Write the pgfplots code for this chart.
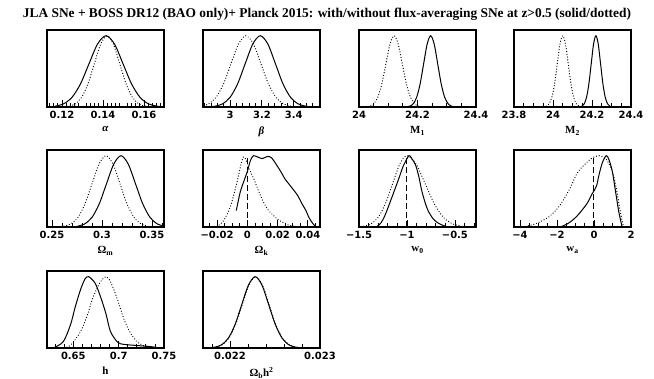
\documentclass[border=0pt]{standalone}
\usepackage{fontspec}
\setmainfont{Liberation Serif}
\newfontfamily\tickfont{DejaVu Sans}
\usepackage{pgfplots}
\pgfplotsset{compat=1.18}
\pgfplotsset{
  panel/.style={
    scale only axis, width=117bp, height=77bp,
    anchor=south west,
    ymin=0, ymax=1.08, ytick=\empty,
    scaled ticks=false,
    axis line style={line width=1.5bp},
    xtick pos=left, tick align=inside,
    major tick length=7bp, minor tick length=3.5bp,
    every tick/.style={black, line width=0.8bp},
    tick label style={font=\tickfont\bfseries\fontsize{10}{12}\selectfont},
    xticklabel style={yshift=-0.5bp},
    xlabel style={font=\bfseries\fontsize{11}{13}\selectfont, yshift=-1bp},
  },
  sol/.style={black, line width=1bp, smooth, no marks},
  dot/.style={black, line width=1.3bp, smooth, no marks, line cap=round, dash pattern=on 0.01bp off 2.8bp},
  vdash/.style={black, line width=1bp, no marks, dash pattern=on 6bp off 3bp},
}
\begin{document}
\begin{tikzpicture}
\path[use as bounding box] (0,0) rectangle (654bp,379bp);
\node[font=\bfseries] at (327bp,365bp) {\resizebox{608bp}{!}{JLA SNe + BOSS DR12 (BAO only)+ Planck 2015: with/without flux-averaging SNe at z>0.5 (solid/dotted)}};

% alpha
\begin{axis}[panel, at={(47bp,272bp)}, xmin=0.1127, xmax=0.1698,
  xtick={0.12,0.14,0.16}, xticklabels={0.12,0.14,0.16},
  minor xtick={0.114,0.116,0.118,0.122,0.124,0.126,0.128,0.132,0.134,0.136,0.138,0.142,0.144,0.146,0.148,0.152,0.154,0.156,0.158,0.162,0.164,0.166,0.168},
  xlabel={\textit{α}}]
\addplot[sol] coordinates {(0.11660,0.0111) (0.12075,0.0439) (0.12490,0.1353) (0.12905,0.3247) (0.13320,0.6065) (0.13735,0.8825) (0.14150,1) (0.14565,0.8825) (0.14980,0.6065) (0.15395,0.3247) (0.15810,0.1353) (0.16225,0.0439) (0.16640,0.0111) (0.17055,0.0022)};
\addplot[dot] coordinates {(0.1199,0.0022) (0.1234,0.0111) (0.1265,0.0439) (0.1296,0.1353) (0.1327,0.3247) (0.1358,0.6065) (0.1389,0.8825) (0.1420,1) (0.1451,0.8825) (0.1482,0.6065) (0.1513,0.3247) (0.1544,0.1353) (0.1575,0.0439) (0.1606,0.0111) (0.1637,0.0022)};
\end{axis}

% beta
\begin{axis}[panel, at={(203bp,272bp)}, xmin=2.83, xmax=3.565,
  xtick={3,3.2,3.4}, xticklabels={3,3.2,3.4},
  minor xtick={2.84,2.88,2.92,2.96,3.04,3.08,3.12,3.16,3.24,3.28,3.32,3.36,3.44,3.48,3.52,3.56},
  xlabel={\textit{β}}]
\addplot[sol] coordinates {(2.8575,0.0022) (2.905,0.0111) (2.9525,0.0439) (3.0,0.1353) (3.0475,0.3247) (3.095,0.6065) (3.1425,0.8825) (3.19,1) (3.2375,0.8825) (3.285,0.6065) (3.3325,0.3247) (3.38,0.1353) (3.4275,0.0439) (3.475,0.0111) (3.5225,0.0022)};
\addplot[dot] coordinates {(2.818,0.0111) (2.865,0.0439) (2.912,0.1353) (2.959,0.3247) (3.006,0.6065) (3.053,0.8825) (3.10,1) (3.147,0.8825) (3.194,0.6065) (3.241,0.3247) (3.288,0.1353) (3.335,0.0439) (3.382,0.0111) (3.429,0.0022)};
\end{axis}

% M1
\begin{axis}[panel, at={(359bp,272bp)}, xmin=24, xmax=24.4,
  xtick={24,24.2,24.4}, xticklabels={24,24.2,24.4},
  minor xtick={24.05,24.1,24.15,24.25,24.3,24.35},
  xlabel={M\textsubscript{1}}]
\addplot[sol] coordinates {(24.161,0.0022) (24.173,0.0111) (24.185,0.0439) (24.197,0.1353) (24.209,0.3247) (24.221,0.6065) (24.233,0.8825) (24.245,1) (24.257,0.8825) (24.269,0.6065) (24.281,0.3247) (24.293,0.1353) (24.305,0.0439) (24.317,0.0111) (24.329,0.0022)};
\addplot[dot] coordinates {(24.022,0.0022) (24.036,0.0111) (24.05,0.0439) (24.064,0.1353) (24.078,0.3247) (24.092,0.6065) (24.106,0.8825) (24.12,1) (24.134,0.8825) (24.148,0.6065) (24.162,0.3247) (24.176,0.1353) (24.19,0.0439) (24.204,0.0111) (24.218,0.0022)};
\end{axis}

% M2
\begin{axis}[panel, at={(514bp,272bp)}, xmin=23.8, xmax=24.4,
  xtick={23.8,24,24.2,24.4}, xticklabels={23.8,24,24.2,24.4},
  minor xtick={23.85,23.9,23.95,24.05,24.1,24.15,24.25,24.3,24.35},
  xlabel={M\textsubscript{2}}]
\addplot[sol] coordinates {(24.136,0.0022) (24.148,0.0111) (24.16,0.0439) (24.172,0.1353) (24.184,0.3247) (24.196,0.6065) (24.208,0.8825) (24.22,1) (24.232,0.8825) (24.244,0.6065) (24.256,0.3247) (24.268,0.1353) (24.28,0.0439) (24.292,0.0111) (24.304,0.0022)};
\addplot[dot] coordinates {(23.952,0.0022) (23.966,0.0111) (23.98,0.0439) (23.994,0.1353) (24.008,0.3247) (24.022,0.6065) (24.036,0.8825) (24.05,1) (24.064,0.8825) (24.078,0.6065) (24.092,0.3247) (24.106,0.1353) (24.12,0.0439) (24.134,0.0111) (24.148,0.0022)};
\end{axis}

% Omega_m
\begin{axis}[panel, at={(47bp,152bp)}, xmin=0.245, xmax=0.362,
  xtick={0.25,0.3,0.35}, xticklabels={0.25,0.3,0.35},
  minor xtick={0.26,0.27,0.28,0.29,0.31,0.32,0.33,0.34,0.36},
  xlabel={Ω\textsubscript{m}}]
\addplot[sol] coordinates {(0.2755,0.0111) (0.28275,0.0439) (0.29,0.1353) (0.29725,0.3247) (0.3045,0.6065) (0.31175,0.8825) (0.319,1) (0.32625,0.8825) (0.3335,0.6065) (0.34075,0.3247) (0.348,0.1353) (0.35525,0.0439) (0.3625,0.0111)};
\addplot[dot] coordinates {(0.262,0.0111) (0.269,0.0439) (0.276,0.1353) (0.283,0.3247) (0.290,0.6065) (0.297,0.8825) (0.304,1) (0.311,0.8825) (0.318,0.6065) (0.325,0.3247) (0.332,0.1353) (0.339,0.0439) (0.346,0.0111)};
\end{axis}

% Omega_k
\begin{axis}[panel, at={(203bp,152bp)}, xmin=-0.0293, xmax=0.048,
  xtick={-0.02,0,0.02,0.04}, xticklabels={−0.02,0,0.02,0.04},
  minor xtick={-0.025,-0.015,-0.01,-0.005,0.005,0.01,0.015,0.025,0.03,0.035,0.045},
  xlabel={Ω\textsubscript{k}}]
\addplot[sol] coordinates {(-0.0073,0.23) (-0.0047,0.49) (-0.002,0.66) (0,0.78) (0.002,0.93) (0.004,1.0) (0.007,0.98) (0.010,0.96) (0.0133,0.99) (0.016,0.97) (0.019,0.88) (0.022,0.78) (0.025,0.67) (0.0287,0.57) (0.0333,0.44) (0.036,0.33) (0.0387,0.23) (0.041,0.12) (0.044,0.03) (0.046,0)};
\addplot[dot] coordinates {(-0.022,0.0) (-0.02,0.01) (-0.016,0.08) (-0.0113,0.28) (-0.0067,0.64) (-0.0045,0.85) (-0.0027,0.98) (-0.001,0.95) (0.001,0.82) (0.004,0.69) (0.0087,0.44) (0.0133,0.25) (0.02,0.11) (0.0267,0.03) (0.0333,0.0)};
\addplot[vdash] coordinates {(0,0) (0,1)};
\end{axis}

% w0
\begin{axis}[panel, at={(359bp,152bp)}, xmin=-1.5, xmax=-0.28,
  xtick={-1.5,-1,-0.5}, xticklabels={−1.5,−1,−0.5},
  minor xtick={-1.4,-1.3,-1.2,-1.1,-0.9,-0.8,-0.7,-0.6,-0.4,-0.3},
  xlabel={w\textsubscript{0}}]
\addplot[sol] coordinates {(-1.33,0) (-1.31,0.01) (-1.27,0.06) (-1.23,0.16) (-1.17,0.37) (-1.09,0.66) (-1.04,0.85) (-0.98,1.0) (-0.95,0.96) (-0.91,0.87) (-0.875,0.7) (-0.844,0.5) (-0.81,0.34) (-0.78,0.23) (-0.73,0.12) (-0.68,0.06) (-0.62,0.02) (-0.57,0)};
\addplot[dot] coordinates {(-1.45,0.011) (-1.375,0.044) (-1.30,0.135) (-1.225,0.325) (-1.15,0.607) (-1.075,0.883) (-1.0,1) (-0.905,0.883) (-0.81,0.607) (-0.715,0.325) (-0.62,0.135) (-0.525,0.044) (-0.43,0.011)};
\addplot[vdash] coordinates {(-1,0) (-1,1)};
\end{axis}

% wa
\begin{axis}[panel, at={(514bp,152bp)}, xmin=-4.32, xmax=2,
  xtick={-4,-2,0,2}, xticklabels={−4,−2,0,2},
  minor xtick={-3.5,-3,-2.5,-1.5,-1,-0.5,0.5,1,1.5},
  xlabel={w\textsubscript{a}}]
\addplot[sol] coordinates {(-1.83,0) (-1.4,0.05) (-0.93,0.15) (-0.4,0.32) (-0.09,0.47) (0.13,0.57) (0.28,0.74) (0.45,0.9) (0.66,1.0) (0.8,0.95) (0.99,0.78) (1.2,0.44) (1.35,0.2) (1.52,0.0)};
\addplot[dot] coordinates {(-3.84,0) (-3.1,0.05) (-2.4,0.15) (-1.85,0.3) (-1.3,0.54) (-0.9,0.76) (-0.4,0.9) (-0.09,0.97) (0.28,1.0) (0.66,0.95) (0.99,0.78) (1.2,0.55) (1.4,0.25) (1.55,0.05) (1.62,0)};
\addplot[vdash] coordinates {(0,0) (0,1)};
\end{axis}

% h
\begin{axis}[panel, at={(47bp,31bp)}, xmin=0.621, xmax=0.75,
  xtick={0.65,0.7,0.75}, xticklabels={0.65,0.7,0.75},
  minor xtick={0.63,0.64,0.66,0.67,0.68,0.69,0.71,0.72,0.73,0.74},
  xlabel={h}]
\addplot[sol] coordinates {(0.628,0) (0.639,0.09) (0.647,0.33) (0.652,0.57) (0.658,0.82) (0.663,0.97) (0.667,1.0) (0.674,0.91) (0.68,0.72) (0.686,0.48) (0.691,0.23) (0.699,0.08) (0.706,0.05) (0.715,0.04) (0.725,0.03) (0.735,0.02) (0.745,0.0)};
\addplot[dot] coordinates {(0.64,0) (0.647,0.04) (0.658,0.23) (0.666,0.48) (0.672,0.72) (0.68,0.93) (0.686,1.0) (0.691,0.93) (0.699,0.67) (0.706,0.40) (0.713,0.21) (0.721,0.08) (0.732,0.01) (0.74,0)};
\end{axis}

% Omega_b h^2
\begin{axis}[panel, at={(203bp,31bp)}, xmin=0.0217, xmax=0.023,
  xtick={0.022,0.023}, xticklabels={0.022,0.023},
  minor xtick={0.0218,0.0222,0.0224,0.0226,0.0228},
  xlabel={Ω\textsubscript{b}h\textsuperscript{2}}]
\addplot[sol] coordinates {(0.021755,0.0022) (0.02183,0.0111) (0.021905,0.0439) (0.02198,0.1353) (0.022055,0.3247) (0.02213,0.6065) (0.022205,0.8825) (0.02228,1) (0.022355,0.8825) (0.02243,0.6065) (0.022505,0.3247) (0.02258,0.1353) (0.022655,0.0439) (0.02273,0.0111) (0.022805,0.0022)};
\addplot[dot] coordinates {(0.02176,0.0022) (0.021835,0.0111) (0.02191,0.0439) (0.021985,0.1353) (0.02206,0.3247) (0.022135,0.6065) (0.02221,0.8825) (0.022285,1) (0.02236,0.8825) (0.022435,0.6065) (0.02251,0.3247) (0.022585,0.1353) (0.02266,0.0439) (0.022735,0.0111) (0.02281,0.0022)};
\end{axis}
\end{tikzpicture}
\end{document}
